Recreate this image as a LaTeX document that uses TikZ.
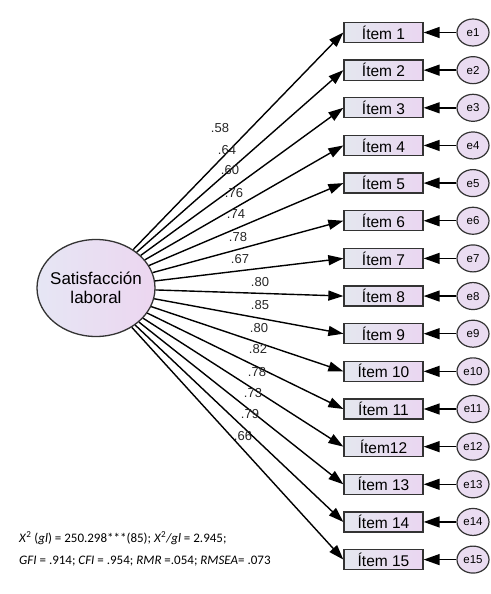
\documentclass[tikz,border=0pt]{standalone}
\usepackage{fontspec}
\setmainfont{Liberation Sans}
\newfontfamily\calib{Carlito}
\usetikzlibrary{arrows.meta,shapes.geometric}
\definecolor{boxL}{HTML}{E4E7EF}
\definecolor{boxR}{HTML}{EAD6F1}
\definecolor{ellL}{HTML}{E6E6F4}
\definecolor{ellR}{HTML}{ECD6F0}
\definecolor{errc}{HTML}{EADCF1}
\definecolor{edge}{HTML}{333333}
\tikzset{
  itembox/.style={draw=edge, line width=1.3pt, left color=boxL, right color=boxR,
    minimum width=79pt, minimum height=20pt, inner sep=0pt, font=\fontsize{15.5}{17}\selectfont},
  errnode/.style={ellipse, draw=edge, line width=1.2pt, fill=errc,
    minimum width=32pt, minimum height=27pt, inner sep=0pt, font=\fontsize{11.5}{12}\selectfont},
  latent/.style={ellipse, draw=edge, line width=1.3pt, left color=ellL, right color=ellR,
    minimum width=118pt, minimum height=97pt, inner sep=0pt},
  lattext/.style={align=center, inner sep=0pt, font=\fontsize{17}{19.5}\selectfont},
  load/.style={draw=black, line width=1.4pt, -{Triangle[length=15pt,width=10pt]}},
  errarr/.style={draw=black, line width=1.4pt, -{Triangle[length=16pt,width=11pt]}},
  coef/.style={font=\fontsize{13}{14}\selectfont, inner sep=0pt, text=black!85},
}
\begin{document}
\begin{tikzpicture}[x=1pt,y=-1pt]
\useasboundingbox (0,0) rectangle (490,594);
\node[latent] (lat) at (96,288) {};
\node[lattext] (latt) at (lat.center) {Satisfacción\\laboral};
\foreach \i/\lab in {1/Ítem 1,2/Ítem 2,3/Ítem 3,4/Ítem 4,5/Ítem 5,6/Ítem 6,7/Ítem 7,8/Ítem 8,9/Ítem 9,10/Ítem 10,11/Ítem 11,12/Ítem12,13/Ítem 13,14/Ítem 14,15/Ítem 15}{
  \pgfmathsetmacro{\yy}{32.5+(\i-1)*37.65}
  \node[itembox] (it\i) at (383.5,\yy) {\lab};
  \node[errnode] (e\i) at (473,\yy) {e\i};
  \draw[errarr] (e\i) -- (it\i);
  \draw[load] (lat) -- (it\i.west);
}
\foreach \v/\x/\y in {.58/220/128,.64/227/150,.60/230/170,.76/234/193,.74/236/214,.78/238/237,.67/240/259,.80/260/282,.85/260/305,.80/259/328,.82/258/349,.78/257/372,.73/253/393,.79/250/414,.66/243/436}{
  \node[coef] (c\x\y) at (\x,\y) {\v};
}
\node[anchor=west, inner sep=0pt, font=\calib\fontsize{13}{15}\selectfont] (fit1) at (19,538)
  {\textit{X}\textsuperscript{2} (\textit{gl}) = 250.298***(85); \textit{X}\textsuperscript{2}\textit{/gl} = 2.945;};
\node[anchor=west, inner sep=0pt, font=\calib\fontsize{13}{15}\selectfont] (fit2) at (19,561)
  {\textit{GFI} = .914; \textit{CFI} = .954; \textit{RMR} =.054; \textit{RMSEA}= .073};
\end{tikzpicture}
\end{document}
